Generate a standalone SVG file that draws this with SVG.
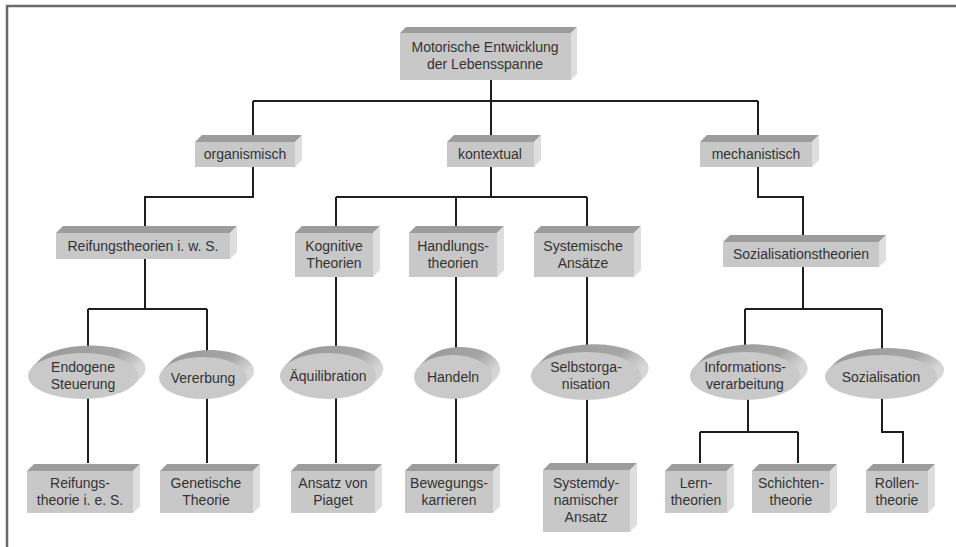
<svg xmlns="http://www.w3.org/2000/svg" width="956" height="547" viewBox="0 0 956 547">
<defs>
<style>
.fr{fill:#c8c8c8}
.tp{fill:#9c9c9c}
.sd{fill:#dedede}
.eb{fill:url(#eg)}
.ef{fill:#c9c9c9}
.t{font-family:"Liberation Sans",Arial,sans-serif;font-size:14px;fill:#333;text-anchor:middle}
.c{stroke:#1e1e1e;stroke-width:2;fill:none}
.frame{stroke:#6a6a6a;stroke-width:2.5;fill:none}
</style>
<linearGradient id="eg" x1="0" y1="0" x2="1" y2="0.4">
<stop offset="0" stop-color="#979797"/>
<stop offset="0.72" stop-color="#a6a6a6"/>
<stop offset="1" stop-color="#d6d6d6"/>
</linearGradient>
</defs>
<rect width="956" height="547" fill="#fff"/>
<path class="frame" d="M7 547V6H956"/>
<g id="connectors">
<path class="c" d="M491 80V101M253 101H758M253 101V135M491 101V135M758 101V135"/>
<path class="c" d="M253 167V197H145V226M491 167V197M336 197H587M336 197V226M456 197V226M587 197V226M758 167V197H803V235"/>
<path class="c" d="M145 259V309M88 309H207M88 309V360M207 309V360M336 277V360M456 277V360M587 277V360M803 267V309M745 309H882M745 309V360M882 309V360"/>
<path class="c" d="M88 398V463M207 398V463M336 398V463M456 398V463M587 398V463M748 398V432M700 432H798M700 432V463M798 432V463M882 398V432H903V463"/>
</g>
<g id="n1"><rect class="fr" x="400" y="33" width="171" height="47"/><path class="tp" d="M400 33L406 27H577L571 33Z"/><path class="sd" d="M571 33L577 27V74L571 80Z"/><text class="t" x="485" y="52">Motorische Entwicklung</text><text class="t" x="485" y="69">der Lebensspanne</text></g>
<g id="n2"><rect class="fr" x="195" y="142" width="100" height="25"/><path class="tp" d="M195 142L202 135H302L295 142Z"/><path class="sd" d="M295 142L302 135V160L295 167Z"/><text class="t" x="245" y="159">organismisch</text></g>
<g id="n3"><rect class="fr" x="447" y="142" width="87" height="25"/><path class="tp" d="M447 142L454 135H541L534 142Z"/><path class="sd" d="M534 142L541 135V160L534 167Z"/><text class="t" x="490" y="159">kontextual</text></g>
<g id="n4"><rect class="fr" x="700" y="142" width="112" height="25"/><path class="tp" d="M700 142L707 135H819L812 142Z"/><path class="sd" d="M812 142L819 135V160L812 167Z"/><text class="t" x="756" y="159">mechanistisch</text></g>
<g id="n5"><rect class="fr" x="56" y="233" width="174" height="26"/><path class="tp" d="M56 233L63 226H237L230 233Z"/><path class="sd" d="M230 233L237 226V252L230 259Z"/><text class="t" x="143" y="251">Reifungstheorien i. w. S.</text></g>
<g id="n6"><rect class="fr" x="295" y="233" width="78" height="44"/><path class="tp" d="M295 233L302 226H380L373 233Z"/><path class="sd" d="M373 233L380 226V270L373 277Z"/><text class="t" x="334" y="251">Kognitive</text><text class="t" x="334" y="268">Theorien</text></g>
<g id="n7"><rect class="fr" x="409" y="233" width="88" height="44"/><path class="tp" d="M409 233L416 226H504L497 233Z"/><path class="sd" d="M497 233L504 226V270L497 277Z"/><text class="t" x="453" y="251">Handlungs-</text><text class="t" x="453" y="268">theorien</text></g>
<g id="n8"><rect class="fr" x="534" y="233" width="100" height="44"/><path class="tp" d="M534 233L541 226H641L634 233Z"/><path class="sd" d="M634 233L641 226V270L634 277Z"/><text class="t" x="583" y="251">Systemische</text><text class="t" x="583" y="268">Ansätze</text></g>
<g id="n9"><rect class="fr" x="723" y="242" width="156" height="25"/><path class="tp" d="M723 242L730 235H886L879 242Z"/><path class="sd" d="M879 242L886 235V260L879 267Z"/><text class="t" x="801" y="259">Sozialisationstheorien</text></g>
<g id="n10"><path class="eb" d="M32.3 367.1L40.3 359.1A55 23 0 0 1 141.7 376.9L133.7 384.9Z"/><ellipse class="ef" cx="83" cy="376" rx="55" ry="23"/><text class="t" x="83" y="372">Endogene</text><text class="t" x="83" y="389">Steuerung</text></g>
<g id="n11"><path class="eb" d="M163.3 369L171.3 361A44 21 0 0 1 250.7 379L242.7 387Z"/><ellipse class="ef" cx="203" cy="378" rx="44" ry="21"/><text class="t" x="203" y="383">Vererbung</text></g>
<g id="n12"><path class="eb" d="M284.7 366.1L292.7 358.1A48 23 0 0 1 379.3 377.9L371.3 385.9Z"/><ellipse class="ef" cx="328" cy="376" rx="48" ry="23"/><text class="t" x="328" y="381">Äquilibration</text></g>
<g id="n13"><path class="eb" d="M419 366.2L427 358.2A39 22 0 0 1 495 379.8L487 387.8Z"/><ellipse class="ef" cx="453" cy="377" rx="39" ry="22"/><text class="t" x="453" y="382">Handeln</text></g>
<g id="n14"><path class="eb" d="M535.6 366.4L543.6 358.4A55 24 0 0 1 644.4 377.6L636.4 385.6Z"/><ellipse class="ef" cx="586" cy="376" rx="55" ry="24"/><text class="t" x="586" y="372">Selbstorga-</text><text class="t" x="586" y="389">nisation</text></g>
<g id="n15"><path class="eb" d="M694.6 366.4L702.6 358.4A55 24 0 0 1 803.4 377.6L795.4 385.6Z"/><ellipse class="ef" cx="745" cy="376" rx="55" ry="24"/><text class="t" x="745" y="372">Informations-</text><text class="t" x="745" y="389">verarbeitung</text></g>
<g id="n16"><path class="eb" d="M828.9 369L836.9 361A56 22 0 0 1 941.1 377L933.1 385Z"/><ellipse class="ef" cx="881" cy="377" rx="56" ry="22"/><text class="t" x="881" y="382">Sozialisation</text></g>
<g id="n17"><rect class="fr" x="27" y="471" width="106" height="42"/><path class="tp" d="M27 471L34 464H140L133 471Z"/><path class="sd" d="M133 471L140 464V506L133 513Z"/><text class="t" x="80" y="488">Reifungs-</text><text class="t" x="80" y="505">theorie i. e. S.</text></g>
<g id="n18"><rect class="fr" x="160" y="471" width="93" height="42"/><path class="tp" d="M160 471L167 464H260L253 471Z"/><path class="sd" d="M253 471L260 464V506L253 513Z"/><text class="t" x="206" y="488">Genetische</text><text class="t" x="206" y="505">Theorie</text></g>
<g id="n19"><rect class="fr" x="291" y="471" width="84" height="42"/><path class="tp" d="M291 471L298 464H382L375 471Z"/><path class="sd" d="M375 471L382 464V506L375 513Z"/><text class="t" x="333" y="488">Ansatz von</text><text class="t" x="333" y="505">Piaget</text></g>
<g id="n20"><rect class="fr" x="405" y="471" width="88" height="42"/><path class="tp" d="M405 471L412 464H500L493 471Z"/><path class="sd" d="M493 471L500 464V506L493 513Z"/><text class="t" x="449" y="488">Bewegungs-</text><text class="t" x="449" y="505">karrieren</text></g>
<g id="n21"><rect class="fr" x="543" y="470" width="87" height="62"/><path class="tp" d="M543 470L550 463H637L630 470Z"/><path class="sd" d="M630 470L637 463V525L630 532Z"/><text class="t" x="586" y="488">Systemdy-</text><text class="t" x="586" y="505">namischer</text><text class="t" x="586" y="522">Ansatz</text></g>
<g id="n22"><rect class="fr" x="665" y="471" width="62" height="42"/><path class="tp" d="M665 471L672 464H734L727 471Z"/><path class="sd" d="M727 471L734 464V506L727 513Z"/><text class="t" x="696" y="488">Lern-</text><text class="t" x="696" y="505">theorien</text></g>
<g id="n23"><rect class="fr" x="752" y="471" width="78" height="42"/><path class="tp" d="M752 471L759 464H837L830 471Z"/><path class="sd" d="M830 471L837 464V506L830 513Z"/><text class="t" x="791" y="488">Schichten-</text><text class="t" x="791" y="505">theorie</text></g>
<g id="n24"><rect class="fr" x="866" y="471" width="62" height="42"/><path class="tp" d="M866 471L873 464H935L928 471Z"/><path class="sd" d="M928 471L935 464V506L928 513Z"/><text class="t" x="897" y="488">Rollen-</text><text class="t" x="897" y="505">theorie</text></g>
</svg>
